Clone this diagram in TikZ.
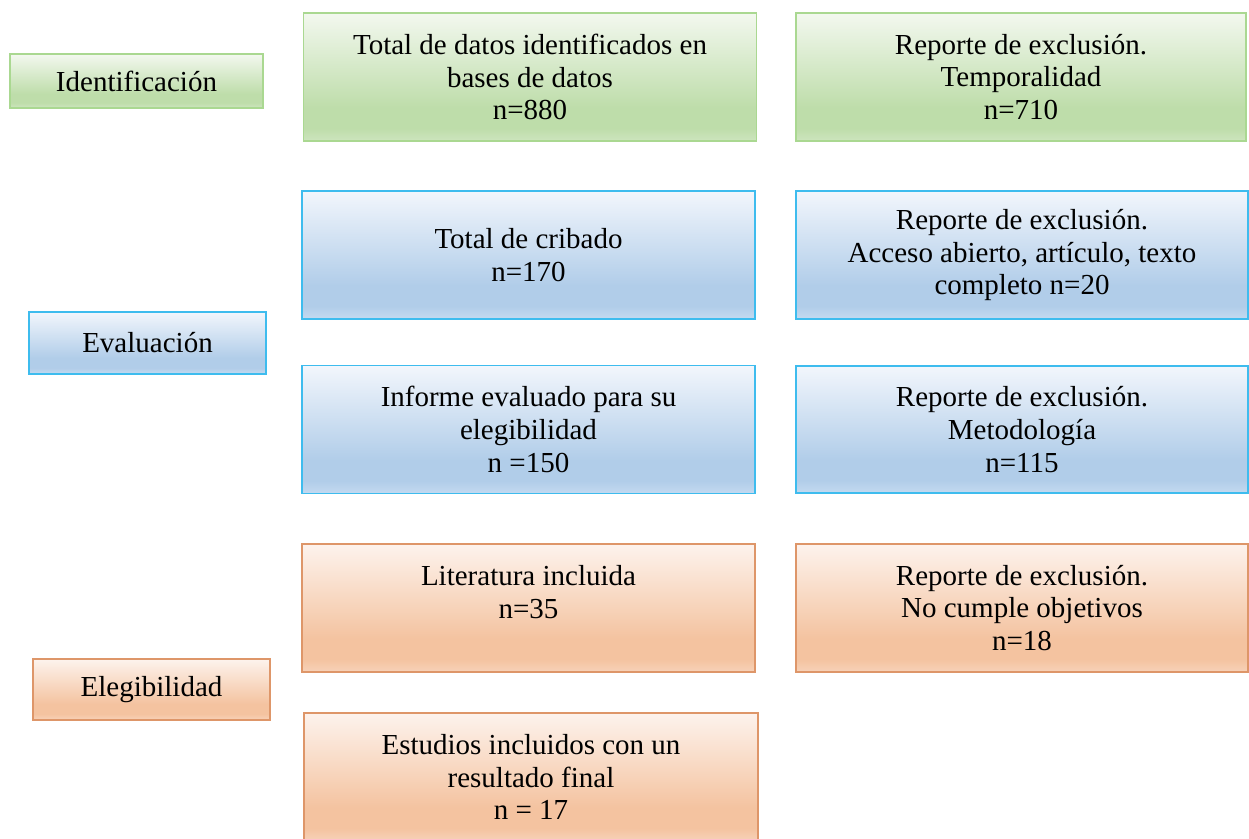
\documentclass[tikz,border=0pt]{standalone}
\usepackage{fontspec}
\setmainfont{Liberation Serif}
\definecolor{gtop}{RGB}{243,248,239}
\definecolor{gbot}{RGB}{190,221,170}
\definecolor{gbl}{RGB}{205,229,190}
\definecolor{gbor}{RGB}{170,216,145}
\definecolor{btop}{RGB}{242,246,252}
\definecolor{bbot}{RGB}{177,205,233}
\definecolor{bbl}{RGB}{196,218,240}
\definecolor{bbor}{RGB}{62,188,238}
\definecolor{otop}{RGB}{253,243,237}
\definecolor{obot}{RGB}{244,195,160}
\definecolor{obl}{RGB}{247,210,185}
\definecolor{obor}{RGB}{222,150,105}
\pgfdeclareverticalshading{greensh}{100bp}{color(0bp)=(gbl); color(25bp)=(gbl); color(30bp)=(gbot); color(38bp)=(gbot); color(75bp)=(gtop); color(100bp)=(gtop)}
\pgfdeclareverticalshading{bluesh}{100bp}{color(0bp)=(bbl); color(25bp)=(bbl); color(30bp)=(bbot); color(38bp)=(bbot); color(75bp)=(btop); color(100bp)=(btop)}
\pgfdeclareverticalshading{orangesh}{100bp}{color(0bp)=(obl); color(25bp)=(obl); color(30bp)=(obot); color(38bp)=(obot); color(75bp)=(otop); color(100bp)=(otop)}
\tikzset{
  box/.style={rectangle, line width=1.3pt, inner sep=0pt, align=center,
    font=\fontsize{29}{32.7}\selectfont, text=black},
  gbox/.style={box, shading=greensh, draw=gbor},
  bbox/.style={box, shading=bluesh, draw=bbor},
  obox/.style={box, shading=orangesh, draw=obor},
  big/.style={minimum width=453pt, minimum height=128pt},
}
\begin{document}
\begin{tikzpicture}[x=1pt,y=-1pt]
\useasboundingbox (0,0) rectangle (1249,838);
\clip (0,0) rectangle (1249,838);
% stage labels
\node[gbox, minimum width=253pt, minimum height=54pt] (ident) at (136.5,81) {Identificación};
\node[bbox, minimum width=237pt, minimum height=62pt] (eval) at (147.5,343) {Evaluación};
\node[obox, minimum width=237pt, minimum height=61pt] (eleg) at (151.5,689.5) {Elegibilidad};
% identification
\node[gbox, big] (total) at (530,77) {Total de datos identificados en\\bases de datos\\n=880};
\node[gbox, minimum width=450pt, minimum height=128pt] (ex1) at (1021,77) {Reporte de exclusión.\\Temporalidad\\n=710};
% evaluation
\node[bbox, big] (crib) at (528.5,255) {Total de cribado\\n=170};
\node[bbox, minimum width=452pt, minimum height=128pt] (ex2) at (1022,255) {Reporte de exclusión.\\Acceso abierto, artículo, texto\\completo n=20};
\node[bbox, big] (infor) at (528.5,429.5) {Informe evaluado para su\\elegibilidad\\n =150};
\node[bbox, minimum width=452pt, minimum height=127pt] (ex3) at (1022,429.5) {Reporte de exclusión.\\Metodología\\n=115};
% eligibility
\node[obox, big] (lit) at (528.5,608) {Literatura incluida\\n=35\\\mbox{}};
\node[obox, minimum width=452pt, minimum height=128pt] (ex4) at (1022,608) {Reporte de exclusión.\\No cumple objetivos\\n=18};
\node[obox, minimum width=454pt, minimum height=128pt] (final) at (531,777) {Estudios incluidos con un\\resultado final\\n = 17};
\end{tikzpicture}
\end{document}
